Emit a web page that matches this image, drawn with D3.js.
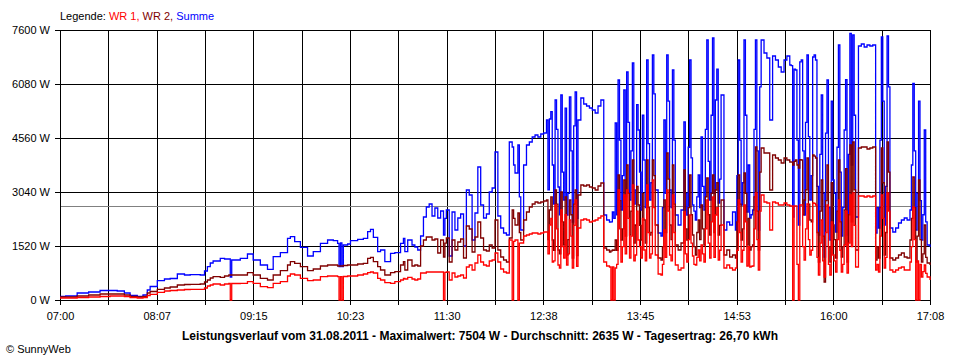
<!DOCTYPE html>
<html>
<head>
<meta charset="utf-8">
<script src="https://cdn.jsdelivr.net/npm/d3@7"></script>
<style>
  html, body { margin: 0; padding: 0; background: #fff; }
  svg { display: block; }
  text { font-family: "Liberation Sans", Arial, sans-serif; font-size: 11px; fill: #000; }
</style>
</head>
<body>
<svg id="chart" width="960" height="360"></svg>
<script>
// time of each sample, minutes after 07:00
const minutes = [
  0,4,12,20,28, 35,40,45,49,54, 58,61,63,68,73, 77,82,87,91,98,
  101,103,105,107,112, 115,118,119,120,126, 131,135,140,145,149,
  154,159,161,164,168, 173,177,182,187,191, 194,195,196,197,198,
  201,203,208,212,215, 217,219,222,224,227, 231,234,238,240,241, 243,
  246,248,250,252,254,256,258,260,262,264,
  266,268,269,270,272,274,276,278,280,282,
  284,286,288,290,292,294,296,298,300,302,
  304,306,308,310,312,314,316,317,318,320,
  321,322,324,326,328,330,332,334,336,338,
  340,341,342,343,344,345,346,347,348,349,
  350,351,352,353,354,355,356,357,358,359,
  360,361,362,364,366,368,370,372,374,376,
  378,380,382,384,385,386,387,388,389,390,
  391,392,393,394,395,396,397,398,399,400,
  401,402,403,404,405,406,407,408,409,410,
  411,412,413,414,415,416,418,420,421,422,
  423,424,425,426,427,428,429,430,432,434,
  436,437,438,439,440,441,442,443,444,445,
  446,447,448,449,450,451,452,453,454,455,
  456,457,458,459,460,461,462,464,466,468,
  470,472,473,474,475,476,477,478,479,480,
  481,482,483,484,485,486,487,488,489,490,
  492,494,496,498,500,502,504,506,508,510,
  511,512,513,514,515,516,517,518,519,520,
  521,522,523,524,525,526,527,528,529,530,
  531,532,533,534,535,536,537,538,539,540,
  541,542,543,544,545,546,547,548,549,550,
  551,552,553,554,555,556,558,560,562,564,
  566,568,570,571,572,573,574,575,576,577,
  578,579,580,582,584,586,588,590,592,594,
  595,596,597,598,599,600,601,602,603,604,
  605,606,608
];

// WR 1 (W)
const wr1 = [
  56,56,70,84,99, 113,113,99,70,56, 70,127,160,217,253, 267,281,296,301,301,
  338,394,422,450,422, 450,464,0,464,470, 515,470,374,346,470,
  515,676,732,704,611, 543,563,656,676,676, 656,0,656,0,661,
  676,676,704,732,768, 788,760,611,563,487, 470,515,563,611,591, 639,
  591,563,591,760,760,788,788,788,788,788,
  788,0,780,788,563,760,647,676,704,619,
  929,985,844,1041,1267,1070,985,957,1098,1126,
  1323,1070,873,788,760,1689,0,1650,1689,0,
  1600,1604,1801,1830,1858,1886,1886,1858,1886,1914,
  1914,1300,2111,2300,1070,1100,2674,2000,985,900,
  2533,1500,1182,2400,985,1300,2252,1800,901,2100,
  2815,950,2027,2252,2280,2252,2195,2224,2252,2308,
  2364,1070,957,929,0,930,0,901,1000,3096,
  2000,1070,1500,2956,1300,3096,2300,1182,1800,3237,
  1100,1267,2500,1689,1500,1182,2300,1407,1100,3237,
  1900,1182,1300,3378,2600,1267,732,704,1000,1970,
  1200,3096,2500,1267,1100,2956,1900,985,844,901,
  2477,1300,1070,1700,2393,1600,1239,1000,985,1200,
  1407,1100,1548,1300,1070,2000,2815,1600,1182,2200,
  2899,1200,2393,2600,1126,1400,2111,901,985,901,
  844,901,1400,2815,1900,1070,1400,2674,2200,957,
  1500,929,950,957,2000,3012,1700,844,2500,2956,
  2758,2730,1970,2758,2730,2674,2674,2730,2674,2646,
  2650,0,2650,2646,1000,0,2680,2674,1500,1126,
  2000,2702,1700,1267,1400,2730,2720,2674,1200,704,
  1600,2252,1100,647,1900,2674,1000,704,2200,1267,
  1100,788,1700,2815,1400,788,1000,1548,2500,760,
  1600,2956,1500,3012,2100,929,2927,2927,2899,2927,
  2899,2927,844,1000,788,1800,2956,2300,901,1200,
  3012,2500,844,788,844,901,929,844,844,1070,
  1500,2618,1700,0,1100,0,1000,647,800,985,
  750,647,563
];

// WR 2 (W)
const wr2 = [
  84,84,113,141,169, 169,169,141,99,84, 99,197,239,301,338, 366,422,436,442,450,
  507,563,619,656,639, 676,704,704,704,704, 768,704,611,563,704,
  825,985,1078,1033,937, 825,873,957,985,985, 957,957,957,957,971,
  985,985,1013,1033,1174, 1202,1078,937,844,704, 768,797,985,1078,844, 1126,
  957,985,957,1520,1689,1773,1773,1689,1717,1323,
  1689,1210,1600,1745,1070,1689,1407,1633,1717,1182,
  2083,1999,1351,1773,2195,1745,1407,1379,1548,1464,
  2252,1407,1210,1126,1070,1745,2533,2300,2111,2449,
  1900,1689,2252,2477,2618,2702,2758,2730,2758,2787,
  2815,1700,2533,2900,1689,1400,3096,2700,1407,1300,
  3040,2200,1548,2900,1267,1700,2815,2400,1182,2700,
  3096,1250,2956,3237,3209,3237,3181,3153,3096,3209,
  3293,1464,1407,1351,1380,1407,1400,1689,1400,3519,
  2800,1689,2000,3378,1800,3800,3000,1830,2500,3941,
  1600,2111,3200,2674,2100,1689,3000,2252,1600,3941,
  2600,1830,1900,3941,3500,2111,1182,1126,1500,2815,
  1900,4138,3400,2111,1700,3800,2700,1548,1407,1604,
  3659,2000,1689,2600,3519,2400,1830,1500,1267,1900,
  2252,1700,2674,2000,1548,2900,3434,2400,1830,3000,
  3519,1900,3096,3300,1830,2100,2815,1267,1407,1210,
  1267,1182,2200,3519,2700,1689,2000,3575,3000,1548,
  2300,1407,1500,1548,2900,4307,2500,1407,3600,4278,
  4138,4138,3096,4081,3997,3941,3856,3997,3941,3884,
  3880,3800,3900,3941,3800,3716,3950,3941,2400,2815,
  3100,3997,2700,2252,2200,4081,4050,3997,1900,1070,
  2500,3378,1800,507,2800,3800,1500,1070,3300,2111,
  1700,1182,2500,3941,2200,1210,1500,2533,3700,1070,
  2400,4363,2200,4447,3100,1407,4278,4307,4307,4250,
  4278,4307,1126,1500,1182,2600,4278,3300,1267,1900,
  4447,3600,1182,1126,1182,1267,1323,1210,1182,1689,
  2300,3462,2600,1070,1800,3378,1700,1070,1300,2111,
  1200,1041,985
];

// Summe (W)
const summe = [
  100,113,197,225,267, 267,253,197,127,99, 141,281,380,543,591, 605,732,704,712,704,
  816,937,1041,1098,1174, 1154,1154,647,1126,1174, 1295,1126,985,864,1219,
  1331,1737,1782,1641,1483, 1239,1360,1596,1689,1669, 1596,937,1604,937,1548,
  1576,1669,1709,1737,1923, 1990,1765,1360,1407,1078, 1315,1331,1596,1737,1360, 1689,
  1548,1492,1407,1801,2336,2618,2702,2364,2590,2308,
  2505,1830,2300,2533,1239,2477,1970,2308,2421,1520,
  3096,2956,1689,2449,3744,2674,2308,2421,3040,3153,
  4166,2364,2027,1886,1830,4447,4307,3800,3575,4363,
  2900,1970,3800,4363,4447,4588,4644,4588,4673,4701,
  5067,3100,5095,5300,3800,2700,5630,4800,3181,2400,
  5770,3600,2815,5400,2393,3000,5714,4200,2195,4900,
  5855,2300,5067,5686,5517,5461,5404,5348,5264,5461,
  5630,2393,2252,2195,2200,2477,2300,4982,2400,6193,
  4500,2533,3500,5911,2900,6418,5000,2815,4200,6671,
  2700,3096,5500,4785,3600,2533,5200,3941,2600,6756,
  4400,2815,3300,6896,5800,3096,1886,1801,2600,5067,
  3000,6896,5600,3096,2600,6474,4500,2393,2111,2533,
  5010,3000,2393,4300,6756,4000,2674,2500,2252,2900,
  3519,2600,4588,3200,2533,4800,7318,3900,2815,5200,
  7375,3000,5630,6500,2730,3400,5770,1970,2195,2111,
  2477,1970,3500,6756,4500,2674,3300,7318,5200,2477,
  3800,2308,2400,2533,4800,7318,4200,1970,6000,7318,
  6953,6812,5067,6868,6756,6558,6418,6756,6868,6615,
  6600,2336,6500,6474,4500,2111,6700,6756,4200,2393,
  5000,6896,4600,2815,3500,6840,6900,6756,3200,1830,
  4100,5770,3000,1210,4700,6193,2600,1689,5600,3378,
  3000,1914,4300,7178,3600,1801,2600,4785,6200,1830,
  4100,7504,3800,7459,5200,2336,7150,7206,7121,7178,
  7150,7178,1886,2600,2027,4500,7403,5600,2111,3200,
  7431,6000,2027,1914,2027,2167,2252,2308,2252,2533,
  3800,6100,4200,1970,3000,5600,2800,1689,2400,4785,
  2200,1548,1492
];

const xTickLabels = ["07:00","08:07","09:15","10:23","11:30","12:38","13:45","14:53","16:00","17:08"];
const yTickValues = [0, 1520, 3040, 4560, 6080, 7600];
const average = 2635;
const legendItems = [
  { label: "WR 1, ", color: "#ff0000" },
  { label: "WR 2, ", color: "#800000" },
  { label: "Summe", color: "#0000ff" }
];
const title = "Leistungsverlauf vom 31.08.2011 - Maximalwert: 7504 W - Durchschnitt: 2635 W - Tagesertrag: 26,70 kWh";

const svg = d3.select("#chart");
const plotLeft = 60, plotRight = 930, plotTop = 30, plotBottom = 300;
const totalMinutes = 608;

const x = d3.scaleLinear().domain([0, totalMinutes]).range([plotLeft, plotRight]);
const y = d3.scaleLinear().domain([0, 7600]).range([plotBottom, plotTop]);

const xTickValues = d3.range(19).map(i => i * totalMinutes / 18);

// grid
const grid = svg.append("g").attr("shape-rendering", "crispEdges");
grid.selectAll("line.v").data(xTickValues).join("line")
  .attr("x1", d => Math.round(x(d)) + 0.5).attr("x2", d => Math.round(x(d)) + 0.5)
  .attr("y1", plotTop).attr("y2", plotBottom)
  .attr("stroke", "#000").attr("stroke-width", 1);
grid.selectAll("line.h").data(yTickValues).join("line")
  .attr("x1", plotLeft).attr("x2", plotRight + 1)
  .attr("y1", d => Math.round(y(d)) + 0.5).attr("y2", d => Math.round(y(d)) + 0.5)
  .attr("stroke", "#000").attr("stroke-width", 1);
// average line
grid.append("line")
  .attr("x1", plotLeft).attr("x2", plotRight)
  .attr("y1", Math.round(y(average)) + 0.5).attr("y2", Math.round(y(average)) + 0.5)
  .attr("stroke", "#808080").attr("stroke-width", 1);

// axes
const xAxis = d3.axisBottom(x).tickValues(xTickValues).tickSize(5).tickSizeOuter(0).tickPadding(7)
  .tickFormat((d, i) => i % 2 === 0 ? xTickLabels[i / 2] : "");
const gx = svg.append("g").attr("transform", `translate(0,${plotBottom})`).call(xAxis);
const yAxis = d3.axisLeft(y).tickValues(yTickValues).tickSize(5).tickSizeOuter(0).tickPadding(5)
  .tickFormat(d => d + " W");
const gy = svg.append("g").attr("transform", `translate(${plotLeft},0)`).call(yAxis);
[gx, gy].forEach(g => {
  g.selectAll("text").style("font-family", '"Liberation Sans", Arial, sans-serif').style("font-size", "11px").attr("fill", "#000");
  g.selectAll("line,path").attr("stroke", "#000").attr("shape-rendering", "crispEdges");
});

// series
const series = [
  { values: summe, color: "#0000ff" },
  { values: wr2, color: "#800000" },
  { values: wr1, color: "#ff0000" }
];
const line = d3.line().curve(d3.curveStepAfter);
series.forEach(s => {
  const pts = minutes.map((m, i) => [x(m), y(s.values[i])]);
  svg.append("path")
    .attr("d", line(pts))
    .attr("fill", "none")
    .attr("stroke", s.color)
    .attr("stroke-width", 1.3);
});

// legend
const legend = svg.append("text").attr("x", 60).attr("y", 20);
legend.append("tspan").text("Legende: ").attr("fill", "#000");
legendItems.forEach(it => legend.append("tspan").text(it.label).attr("fill", it.color));

// title
svg.append("text").attr("x", 480).attr("y", 340).attr("text-anchor", "middle")
  .style("font-weight", "bold").style("font-size", "12px").text(title);

// copyright
svg.append("text").attr("x", 6).attr("y", 353).text("\u00A9 SunnyWeb");
</script>
</body>
</html>
